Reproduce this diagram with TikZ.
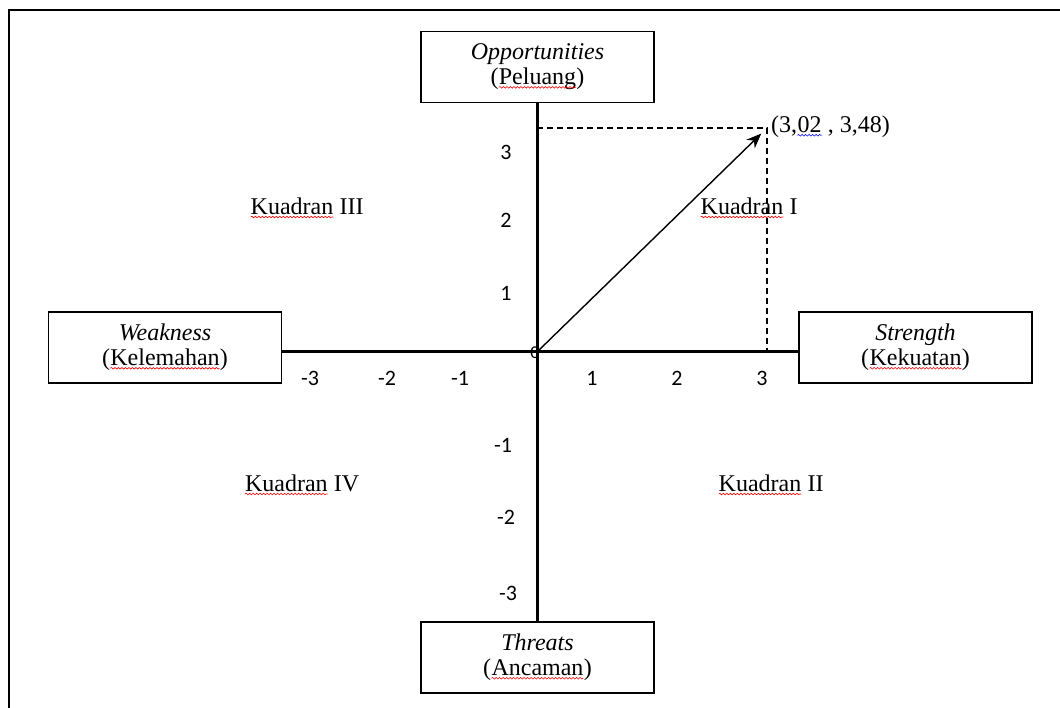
\documentclass[tikz,border=0pt]{standalone}
\usepackage{fontspec}
\setmainfont{Liberation Serif}
\newfontfamily\numfont{Carlito}
\usetikzlibrary{arrows.meta,decorations.pathmorphing}
\newcommand{\squig}[2]{\tikz[baseline=(w.base)]{\node[draw=none,inner sep=0pt,outer sep=0pt,minimum width=0pt,minimum height=0pt,anchor=center](w){#2};\draw[#1,line width=0.6pt,decorate,decoration={snake,amplitude=0.8pt,segment length=3.5pt}] ([yshift=-2.5pt]w.base west) -- ([yshift=-2.5pt]w.base east);}}
\begin{document}
\begin{tikzpicture}[x=1pt,y=-1pt,
  box/.style={draw,line width=1.5pt,minimum width=233pt,minimum height=71pt,align=center,inner sep=0pt,font=\fontsize{24}{25}\selectfont},
  axis/.style={line width=3pt},
  num/.style={font=\numfont\fontsize{22}{22}\selectfont,inner sep=0pt},
  quad/.style={font=\fontsize{24}{25}\selectfont,inner sep=0pt},
  guide/.style={dash pattern=on 6pt off 4pt,line width=1.2pt},
  vec/.style={-{Stealth[length=15pt,width=12pt]},line width=1.4pt,shorten >=8pt},
  frame/.style={line width=2pt}]
\useasboundingbox (0,0) rectangle (1060,708);
\draw[frame] (9,708) -- (9,10) -- (1060,10);

\node[box] (opp) at (537.5,67) {\textit{Opportunities}\\(\squig{red}{Peluang})};
\node[box] (thr) at (537.5,657.5) {\textit{Threats}\\(\squig{red}{Ancaman})};
\node[box] (weak) at (165,347.5) {\textit{Weakness}\\(\squig{red}{Kelemahan})};
\node[box] (str) at (915.5,347.5) {\textit{Strength}\\(\squig{red}{Kekuatan})};

\coordinate (O) at (537,352);
\coordinate (P) at (767,128);

\draw[axis] (opp.south) -- (thr.north);
\draw[axis] (weak.east |- O) -- (str.west |- O);

\draw[guide] (O |- P) -- (P) -- (P |- O);
\draw[vec] (O) -- (P);

\node[quad,anchor=west] (pt) at (771,127) {(3,\squig{blue}{02} , 3,48)};

\node[num] (x-3) at (310,378) {-3};
\node[num] (x-2) at (387,378) {-2};
\node[num] (x-1) at (460,378) {-1};
\node[num] (x1) at (592,378) {1};
\node[num] (x2) at (677,378) {2};
\node[num] (x3) at (762,378) {3};
\node[num] (y3) at (506,152) {3};
\node[num] (y2) at (506,220) {2};
\node[num] (y1) at (506,293) {1};
\node[num] (y-1) at (503,445) {-1};
\node[num] (y-2) at (506,517) {-2};
\node[num] (y-3) at (508,593) {-3};
\node[num,font=\numfont\fontsize{18}{18}\selectfont] (zero) at (535,353) {0};

\node[quad] (q3) at (307,208) {\squig{red}{Kuadran} III};
\node[quad] (q1) at (749,208) {\squig{red}{Kuadran} I};
\node[quad] (q4) at (302,485) {\squig{red}{Kuadran} IV};
\node[quad] (q2) at (771,485) {\squig{red}{Kuadran} II};
\end{tikzpicture}
\end{document}
